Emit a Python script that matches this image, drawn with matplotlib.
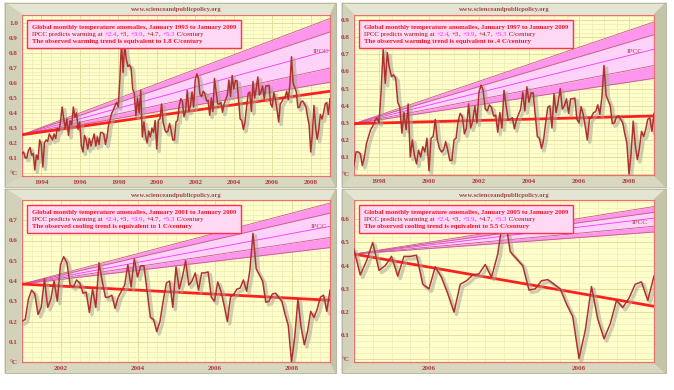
import numpy as np
import matplotlib
matplotlib.use("Agg")
import matplotlib.pyplot as plt
import matplotlib.patheffects as pe
from matplotlib.patches import Polygon, Rectangle
from matplotlib.offsetbox import TextArea, HPacker, VPacker, AnchoredOffsetbox
from matplotlib.ticker import MultipleLocator

# ---------------------------------------------
# DATA (monthly anomalies)
# ---------------------------------------------

# 1993-1996 as drawn in the first panel (its own baseline)
anom_93_96 = [0.13, 0.14, 0.10, 0.10, 0.15, 0.17, 0.12, 0.13, 0.02, 0.12, 0.09, 0.22,
              0.19, 0.04, 0.20, 0.22, 0.21, 0.26, 0.24, 0.22, 0.26, 0.23, 0.30, 0.28,
              0.34, 0.44, 0.36, 0.30, 0.36, 0.25, 0.35, 0.32, 0.44, 0.37, 0.40, 0.29,
              0.34, 0.18, 0.14, 0.25, 0.22, 0.16, 0.23, 0.18, 0.22, 0.26, 0.18, 0.24]

# 1997 onwards as drawn in the other three panels
anom_97_00 = [0.05, 0.13, 0.13, 0.12, 0.05, 0.10, 0.18, 0.22, 0.26, 0.28, 0.31, 0.33,
              0.30, 0.48, 0.73, 0.53, 0.71, 0.62, 0.57, 0.58, 0.56, 0.42, 0.39, 0.24,
              0.36, 0.26, 0.41, 0.10, 0.20, 0.11, 0.06, 0.14, 0.10, 0.16, 0.13, 0.21,
              0.02, 0.21, 0.22, 0.32, 0.20, 0.15, 0.13, 0.14, 0.19, 0.14, 0.08, 0.08]
anom_01_04 = [0.20, 0.21, 0.31, 0.355, 0.335, 0.235, 0.27, 0.41, 0.27, 0.31, 0.40, 0.30,
              0.48, 0.52, 0.49, 0.38, 0.37, 0.405, 0.39, 0.34, 0.345, 0.245, 0.36, 0.27,
              0.49, 0.40, 0.32, 0.32, 0.33, 0.265, 0.32, 0.35, 0.38, 0.48, 0.37, 0.51,
              0.42, 0.475, 0.475, 0.35, 0.22, 0.21, 0.15, 0.20, 0.30, 0.39, 0.40, 0.27]
anom_05_09 = [0.47, 0.36, 0.42, 0.50, 0.38, 0.40, 0.44, 0.355, 0.44, 0.44, 0.445, 0.32,
              0.30, 0.395, 0.35, 0.28, 0.20, 0.32, 0.335, 0.36, 0.365, 0.405, 0.35, 0.45,
              0.635, 0.46, 0.43, 0.40, 0.295, 0.30, 0.335, 0.34, 0.32, 0.30, 0.235, 0.18,
              0.0, 0.12, 0.31, 0.17, 0.085, 0.15, 0.25, 0.22, 0.26, 0.32, 0.33, 0.25,
              0.355]

# first panel sits on a different baseline
p1_offset = 0.14

start_years = [1993, 1997, 2001, 2005]
trend_ends = [(0.255, 0.545), (0.295, 0.34), (0.385, 0.305), (0.45, 0.225)]
trend_words = ["warming trend is equivalent to 1.8", "warming trend is equivalent to .4",
               "cooling trend is equivalent to 1", "cooling trend is equivalent to 5.5"]
ipcc_rates = ["+2.4", "+3", "+3.9", "+4.7", "+5.3"]
fan_ends = [[0.605, 0.70, 0.82, 0.94, 1.03],
            [0.56, 0.635, 0.73, 0.815, 0.89],
            [0.565, 0.615, 0.67, 0.735, 0.785],
            [0.545, 0.57, 0.605, 0.63, 0.655]]
ipcc_label_pos = [(2008.1, 0.80), (2007.9, 0.71), (2008.5, 0.66), (2008.7, 0.58)]
ylims = [(-0.02, 1.053), (-0.005, 0.93), (0.0, 0.80), (-0.015, 0.683)]
ytops = [1.0, 0.9, 0.7, 0.6]
xtick_years = [range(1994, 2009, 2), range(1998, 2009, 2), range(2002, 2009, 2), [2006, 2008]]

# ---------------------------------------------
# BUILD SERIES
# ---------------------------------------------

late = np.array(anom_97_00 + anom_01_04 + anom_05_09)
late_t = 1997 + np.arange(len(late)) / 12
early = np.array(anom_93_96)
early_t = 1993 + np.arange(len(early)) / 12

# ---------------------------------------------
# FIGURE + FRAMES
# ---------------------------------------------

W, H = 674, 390
fig = plt.figure(figsize=(W / 100, H / 100), dpi=100)
fig.patch.set_facecolor("white")
bg = fig.add_axes([0, 0, 1, 1])
bg.set_xlim(0, W)
bg.set_ylim(H, 0)
bg.axis("off")

outer = [(5, 3, 336, 187), (342, 3, 666, 187), (5, 189, 336, 373), (342, 189, 666, 373)]
inner = [(22, 15, 330, 176), (354, 15, 654, 175), (22, 200, 330, 362), (354, 200, 654, 362)]

dark = "#b03a3a"
serif = ["Liberation Serif", "DejaVu Serif"]

for (ox0, oy0, ox1, oy1), (ix0, iy0, ix1, iy1) in zip(outer, inner):
    ix0 -= 1; iy0 -= 1; ix1 += 1; iy1 += 1
    bg.add_patch(Polygon([(ox0, oy0), (ox1, oy0), (ix1, iy0), (ix0, iy0)], color="#e4e4d2"))
    bg.add_patch(Polygon([(ox0, oy0), (ix0, iy0), (ix0, iy1), (ox0, oy1)], color="#d2d2ba"))
    bg.add_patch(Polygon([(ox0, oy1), (ix0, iy1), (ix1, iy1), (ox1, oy1)], color="#d8d8c0"))
    bg.add_patch(Polygon([(ox1, oy0), (ix1, iy0), (ix1, iy1), (ox1, oy1)], color="#c4c4a8"))
    bg.add_patch(Rectangle((ox0, oy0), ox1 - ox0, oy1 - oy0, fill=False,
                           edgecolor="#b4b49c", linewidth=0.6))
    bg.text((ix0 + ix1) / 2, oy0 + 7, "www.scienceandpublicpolicy.org", ha="center",
            va="center", fontsize=4.7, color="#a04848", family=serif, fontweight="bold")

# ---------------------------------------------
# PANELS
# ---------------------------------------------

for i, (x0, y0, x1, y1) in enumerate(inner):
    ax = fig.add_axes([x0 / W, 1 - y1 / H, (x1 - x0) / W, (y1 - y0) / H])
    ax.set_facecolor("#ffffcc")
    s = start_years[i]

    if i == 0:
        t = np.concatenate([early_t, late_t])
        y = np.concatenate([early, late + p1_offset])
    else:
        m = late_t >= s - 1e-9
        t, y = late_t[m], late[m]

    # IPCC fan
    xs = np.array([s, 2009.0])
    y0f = trend_ends[i][0]
    edges = [np.array([y0f, e]) for e in fan_ends[i]]
    ax.fill_between(xs, edges[0], edges[1], color="#ff96ee", lw=0, zorder=1)
    ax.fill_between(xs, edges[1], edges[3], color="#ffd2fa", lw=0, zorder=1)
    ax.fill_between(xs, edges[3], edges[4], color="#ff96ee", lw=0, zorder=1)
    for k, e in enumerate(edges):
        ax.plot(xs, e, color="#ff33ff" if k == 2 else "#c06080", lw=0.6, zorder=2)
    lx, ly = ipcc_label_pos[i]
    ax.text(lx, ly, "IPCC", fontsize=5.3, color="#a04848", family=serif, zorder=3)

    # observed trend
    ax.plot(xs, trend_ends[i], color="#ff1f1f", lw=2.0, zorder=4)

    # data line with shadow
    ax.plot(t, y, color="#b03030", lw=1.1, zorder=5, solid_joinstyle="round",
            path_effects=[pe.SimpleLineShadow(offset=(1.8, -1.8), shadow_color="#a8a898",
                                              alpha=0.55, linewidth=2.4),
                          pe.Normal()])

    ax.set_xlim(s, 2009.0)
    ax.set_ylim(*ylims[i])

    # grid
    ax.xaxis.set_minor_locator(MultipleLocator(0.25 if i >= 2 else 0.5))
    ax.yaxis.set_minor_locator(MultipleLocator(0.025))
    ax.grid(which="minor", color="#f0eab4", lw=0.5, zorder=0)
    ax.grid(which="major", color="#e2d896", lw=0.6, zorder=0)
    ax.set_axisbelow(True)

    # tick labels
    yt = np.round(np.arange(0, ytops[i] + 0.01, 0.1), 2)
    ax.set_yticks(yt)
    ax.set_yticklabels(["°C"] + [f"{v:.1f}" for v in yt[1:]])
    ax.set_xticks(list(xtick_years[i]))
    ax.set_xticklabels([str(v) for v in xtick_years[i]])
    ax.tick_params(which="both", length=0, colors=dark, labelsize=5.1, pad=3)
    for lab in ax.get_xticklabels() + ax.get_yticklabels():
        lab.set_family(serif)
        lab.set_fontweight("bold")

    for sp in ax.spines.values():
        sp.set_color("#e87070")
        sp.set_linewidth(0.9)

    # text box
    fs = 4.85
    bold_red = dict(color="#ff1020", fontsize=fs, family=serif, fontweight="bold")
    plain = dict(color="#901818", fontsize=fs, family=serif)
    mag = dict(color="#ff20ff", fontsize=fs, family=serif)
    line1 = TextArea(f"Global monthly temperature anomalies, January {s} to January 2009",
                     textprops=bold_red)
    pieces = [TextArea("IPCC predicts warming at ", textprops=plain)]
    for k, r in enumerate(ipcc_rates):
        pieces.append(TextArea(r, textprops=mag if k % 2 == 0 else plain))
        pieces.append(TextArea(", " if k < 4 else " C/century", textprops=plain))
    line2 = HPacker(children=pieces, align="baseline", pad=0, sep=0)
    line3 = TextArea(f"The observed {trend_words[i]} C/century", textprops=bold_red)
    box = VPacker(children=[line1, line2, line3], align="left", pad=0, sep=1.4)
    anch = AnchoredOffsetbox(loc="upper left", child=box, pad=0.35, borderpad=0,
                             frameon=True, bbox_to_anchor=(0.016, 0.97),
                             bbox_transform=ax.transAxes)
    anch.patch.set_facecolor("#ffd8f4")
    anch.patch.set_edgecolor("#ff3050")
    anch.patch.set_linewidth(1.0)
    anch.set_zorder(6)
    ax.add_artist(anch)

fig.savefig("out.png", dpi=100, facecolor="white")
